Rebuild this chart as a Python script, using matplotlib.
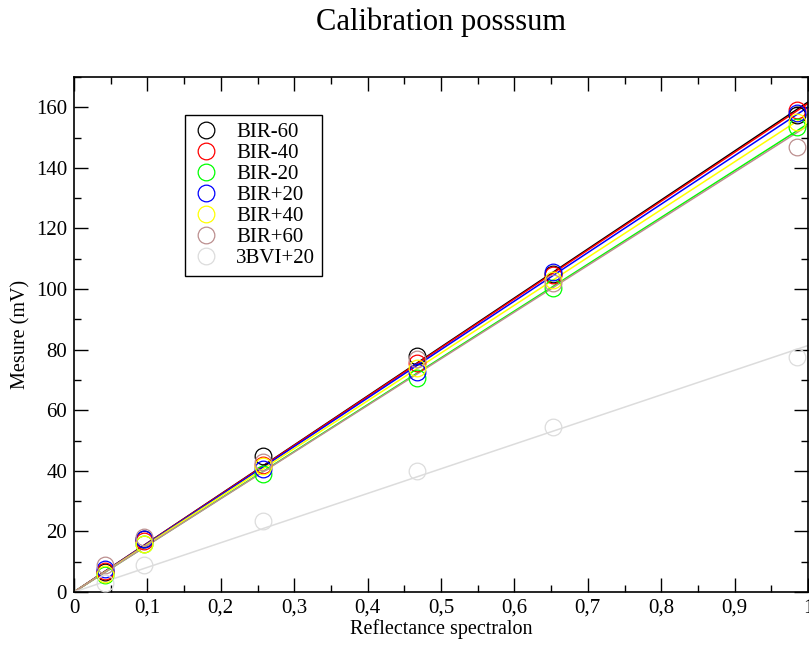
import matplotlib
matplotlib.use("Agg")
import matplotlib.pyplot as plt
import numpy as np
from matplotlib.ticker import FuncFormatter, MultipleLocator

plt.rcParams['font.family'] = ['Liberation Serif', 'DejaVu Serif']

# reflectance of the spectralon panels
reflectance = [0.042, 0.095, 0.258, 0.467, 0.653, 0.985]

bir_m60 = [6.5, 17.5, 45.0, 78.0, 105.0, 157.5]
bir_m40 = [7.0, 17.0, 42.0, 75.5, 104.5, 159.0]
bir_m20 = [5.5, 15.8, 39.0, 70.5, 100.5, 153.5]
bir_p20 = [7.5, 17.5, 40.5, 72.5, 105.5, 158.0]
bir_p40 = [6.0, 16.0, 41.5, 74.0, 103.0, 155.0]
bir_p60 = [9.0, 18.0, 43.0, 77.0, 102.0, 147.0]
bvi_p20 = [3.0, 9.0, 23.5, 40.0, 54.5, 77.5]

series = [
    ("BIR-60", bir_m60, "black"),
    ("BIR-40", bir_m40, "#ff0000"),
    ("BIR-20", bir_m20, "#00ff00"),
    ("BIR+20", bir_p20, "#0000ff"),
    ("BIR+40", bir_p40, "#ffff00"),
    ("BIR+60", bir_p60, "#bc8f8f"),
    ("3BVI+20", bvi_p20, "#dcdcdc"),
]

fig = plt.figure(figsize=(8.09, 6.46), dpi=100)
ax = fig.add_axes([74 / 809, 54 / 646, 734 / 809, 515 / 646])

x = np.array(reflectance)
xfit = np.array([0.0, 1.0])
for name, y, col in series:
    y = np.array(y)
    # least squares line through the origin
    slope = np.sum(x * y) / np.sum(x * x)
    ax.plot(xfit, slope * xfit, color=col, lw=1.1, zorder=2)
    ax.plot(x, y, ls='none', marker='o', ms=12, mfc='none', mec=col,
            mew=0.9, label=name, zorder=3)

ax.set_xlim(0, 1)
ax.set_ylim(0, 170)
ax.xaxis.set_major_locator(MultipleLocator(0.1))
ax.xaxis.set_minor_locator(MultipleLocator(0.05))
ax.yaxis.set_major_locator(MultipleLocator(20))
ax.yaxis.set_minor_locator(MultipleLocator(10))


def comma(v, pos):
    if abs(v) < 1e-9:
        return "0"
    if abs(v - 1) < 1e-9:
        return "1"
    return ("%.1f" % v).replace(".", ",")


ax.xaxis.set_major_formatter(FuncFormatter(comma))
ax.tick_params(which='both', direction='in', top=True, right=True,
               labelsize=15, width=1, colors='black')
ax.tick_params(which='major', length=10, pad=5)
ax.tick_params(which='minor', length=5)
for s in ax.spines.values():
    s.set_linewidth(1.2)

ax.set_xlabel("Reflectance spectralon", fontsize=14.5, labelpad=1)
ax.set_ylabel("Mesure (mV)", fontsize=14.5, labelpad=4)
fig.suptitle("Calibration posssum", fontsize=22, x=441 / 809, y=0.988)

leg = ax.legend(loc='upper left', bbox_to_anchor=(0.151, 0.926), fontsize=15,
                frameon=True, fancybox=False, edgecolor='black', framealpha=1,
                handletextpad=0.8, labelspacing=0.07, borderpad=0.35,
                handlelength=1.3, borderaxespad=0)
leg.get_frame().set_linewidth(1.0)

fig.savefig("out.png", dpi=100)
